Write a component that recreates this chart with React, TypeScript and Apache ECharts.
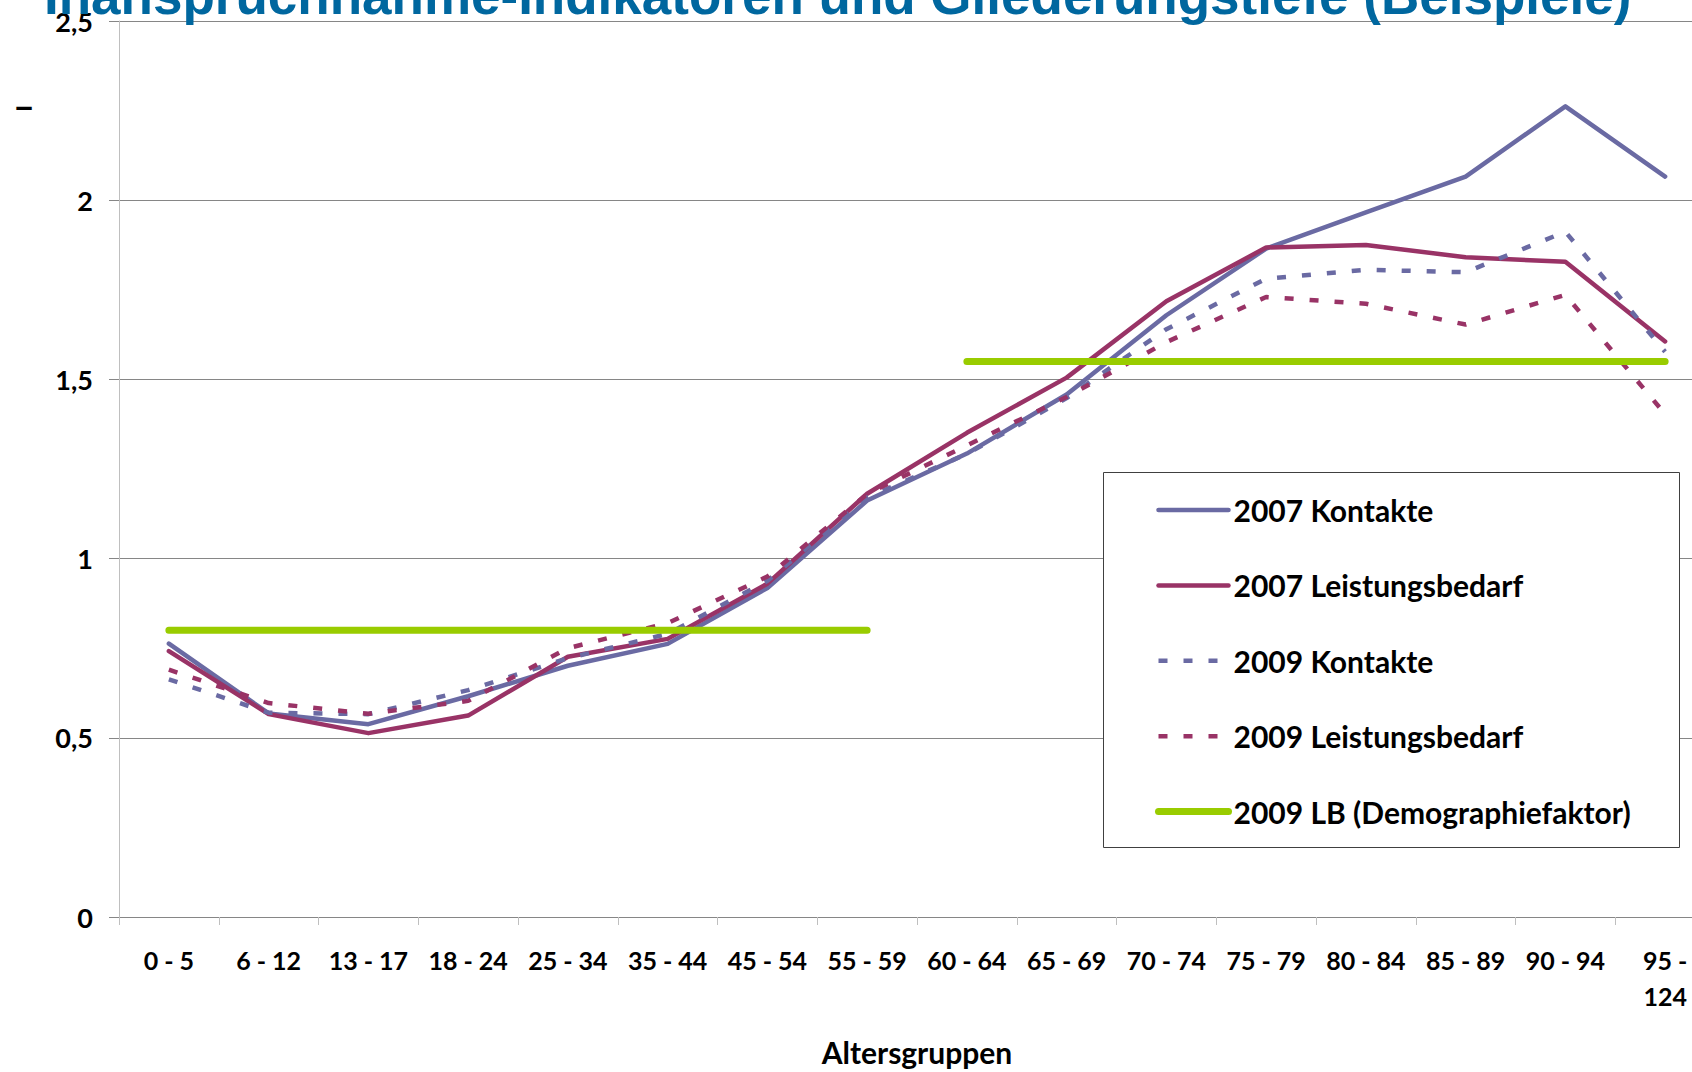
import React, { useEffect, useRef } from "react";
import * as echarts from "echarts";

const categories = [
  "0 - 5", "6 - 12", "13 - 17", "18 - 24", "25 - 34", "35 - 44", "45 - 54", "55 - 59",
  "60 - 64", "65 - 69", "70 - 74", "75 - 79", "80 - 84", "85 - 89", "90 - 94", "95 - 124",
];

const kontakte2007 = [0.763, 0.568, 0.538, 0.616, 0.701, 0.762, 0.918, 1.162, 1.293, 1.458, 1.679, 1.865, 1.966, 2.066, 2.262, 2.066];
const leistung2007 = [0.742, 0.566, 0.513, 0.562, 0.726, 0.776, 0.93, 1.181, 1.351, 1.505, 1.718, 1.868, 1.875, 1.841, 1.828, 1.606];
const kontakte2009 = [0.663, 0.57, 0.566, 0.633, 0.722, 0.79, 0.938, 1.17, 1.292, 1.448, 1.64, 1.781, 1.806, 1.799, 1.912, 1.577];
const leistung2009 = [0.69, 0.597, 0.567, 0.603, 0.75, 0.82, 0.95, 1.18, 1.316, 1.451, 1.604, 1.73, 1.711, 1.653, 1.736, 1.403];
const demoLow = [0.8, 0.8, 0.8, 0.8, 0.8, 0.8, 0.8, 0.8, null, null, null, null, null, null, null, null];
const demoHigh = [null, null, null, null, null, null, null, null, 1.55, 1.55, 1.55, 1.55, 1.55, 1.55, 1.55, 1.55];

const yTicks = [0, 0.5, 1, 1.5, 2, 2.5];

const TITLE = "Inanspruchnahme-Indikatoren und Gliederungstiefe (Beispiele)";
const X_NAME = "Altersgruppen";

const BLUE = "#6a6aa3";
const PURPLE = "#993366";
const GREEN = "#99cc00";
const FONT = "Lato, 'Open Sans', sans-serif";
const DASH = [9, 16];

export default function App() {
  const ref = useRef<HTMLDivElement>(null);

  useEffect(() => {
    if (!ref.current) return;
    const chart = echarts.init(ref.current, undefined, { renderer: "svg" });
    const toNull = (a: (number | null)[]) => a.map((v) => (v === null ? "-" : v));
    const solid = (c: string) => ({ color: c, width: 4.5, cap: "round", join: "round" });
    const dashed = (c: string) => ({ color: c, width: 4.5, type: DASH, cap: "butt" });
    const green = { color: GREEN, width: 7, cap: "round" };
    const option: any = {
      animation: false,
      backgroundColor: "#ffffff",
      grid: { left: 119, top: 21, width: 1596, height: 898.5, containLabel: false },
      xAxis: {
        type: "category",
        data: categories,
        boundaryGap: true,
        name: X_NAME,
        nameLocation: "middle",
        nameGap: 120,
        nameTextStyle: { fontFamily: FONT, fontWeight: "bold", fontSize: 30, color: "#000" },
        axisLine: { show: true, lineStyle: { color: "#868686", width: 1 } },
        axisTick: { show: true, interval: 0, length: 8, lineStyle: { color: "#bfbfbf", width: 1 } },
        axisLabel: {
          interval: 0,
          margin: 25,
          fontFamily: FONT,
          fontWeight: "bold",
          fontSize: 25,
          lineHeight: 36,
          color: "#000",
          formatter: (v: string) => (v === "95 - 124" ? "95 -\n124" : v),
        },
        splitLine: { show: false },
      },
      yAxis: {
        type: "value",
        min: yTicks[0],
        max: yTicks[yTicks.length - 1],
        interval: 0.5,
        axisLine: { show: true, lineStyle: { color: "#bfbfbf", width: 1 } },
        axisTick: { show: true, length: 10, lineStyle: { color: "#868686", width: 1 } },
        axisLabel: {
          margin: 26,
          fontFamily: FONT,
          fontWeight: "bold",
          fontSize: 27,
          color: "#000",
          formatter: (v: number) => String(v).replace(".", ","),
        },
        splitLine: { show: true, lineStyle: { color: "#868686", width: 1 } },
      },
      legend: {
        show: true,
        orient: "vertical",
        left: 1155,
        top: 495,
        padding: 0,
        itemGap: 45.4,
        itemWidth: 70,
        itemHeight: 14,
        z: 10,
        itemStyle: { opacity: 0 },
        textStyle: { fontFamily: FONT, fontWeight: "bold", fontSize: 30, lineHeight: 30, color: "#000" },
        data: [
          { name: "2007 Kontakte", itemStyle: { opacity: 0 }, lineStyle: solid(BLUE) },
          { name: "2007 Leistungsbedarf", itemStyle: { opacity: 0 }, lineStyle: solid(PURPLE) },
          { name: "2009 Kontakte", itemStyle: { opacity: 0 }, lineStyle: dashed(BLUE) },
          { name: "2009 Leistungsbedarf", itemStyle: { opacity: 0 }, lineStyle: dashed(PURPLE) },
          { name: "2009 LB (Demographiefaktor)", itemStyle: { opacity: 0 }, lineStyle: green },
        ],
      },
      graphic: [
        {
          type: "text",
          x: 44,
          y: -5,
          z: 10,
          style: {
            text: TITLE,
            fill: "#00679f",
            font: "bold 53px 'Liberation Sans', Arial, sans-serif",
            verticalAlign: "middle",
            align: "left",
          },
        },
        {
          type: "text",
          x: 24,
          y: 105,
          style: {
            text: "–",
            fill: "#000",
            font: "bold 38px Lato, sans-serif",
            verticalAlign: "middle",
            align: "center",
          },
        },
        {
          type: "rect",
          z: 5,
          shape: { x: 1103.5, y: 472.5, width: 576, height: 375 },
          style: { fill: "#ffffff", stroke: "#404040", lineWidth: 1 },
        },
      ],
      series: [
        { name: "2007 Kontakte", type: "line", data: kontakte2007, symbol: "none", lineStyle: solid(BLUE), itemStyle: { color: BLUE } },
        { name: "2007 Leistungsbedarf", type: "line", data: leistung2007, symbol: "none", lineStyle: solid(PURPLE), itemStyle: { color: PURPLE } },
        { name: "2009 Kontakte", type: "line", data: kontakte2009, symbol: "none", lineStyle: dashed(BLUE), itemStyle: { color: BLUE } },
        { name: "2009 Leistungsbedarf", type: "line", data: leistung2009, symbol: "none", lineStyle: dashed(PURPLE), itemStyle: { color: PURPLE } },
        { name: "2009 LB (Demographiefaktor)", type: "line", data: toNull(demoLow), symbol: "none", connectNulls: false, lineStyle: green, itemStyle: { color: GREEN } },
        { name: "2009 LB (Demographiefaktor)", type: "line", data: toNull(demoHigh), symbol: "none", connectNulls: false, lineStyle: green, itemStyle: { color: GREEN } },
      ],
    };
    chart.setOption(option);
    return () => chart.dispose();
  }, []);

  return (
    <div
      ref={ref}
      style={{ position: "fixed", left: 0, top: 0, width: 1720, height: 1072, background: "#fff" }}
    />
  );
}
